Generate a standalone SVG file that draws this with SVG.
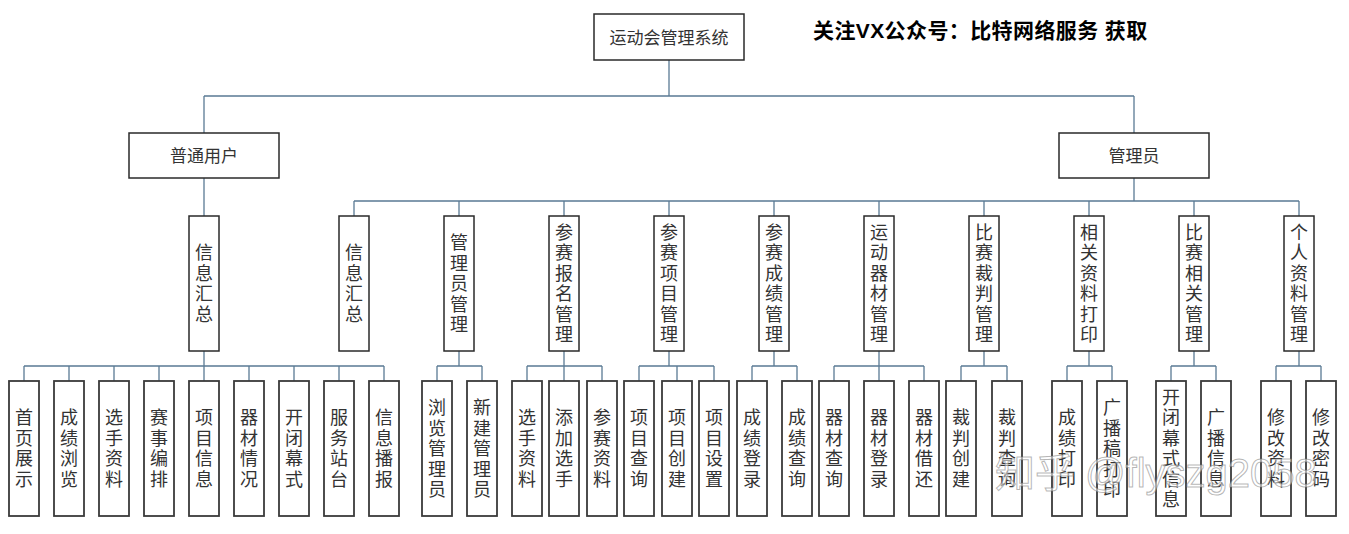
<svg xmlns="http://www.w3.org/2000/svg" width="1349" height="534" viewBox="0 0 1349 534">
<style>
.box{fill:#fff;stroke:#2a2a2a;stroke-width:1.5}
.leaf{fill:#fff;stroke:#3a3a3a;stroke-width:1.8}
.lbl{font-family:"Noto Sans CJK SC","Noto Sans",sans-serif;font-size:17px;fill:#333;text-anchor:middle}
.v{font-family:"Noto Sans CJK SC","Noto Sans",sans-serif;font-size:18px;fill:#333;text-anchor:middle}
.con{fill:none;stroke:#5a7a94;stroke-width:1.3}
.title{font-family:"Liberation Sans","Noto Sans CJK SC",sans-serif;font-size:21px;font-weight:bold;fill:#000;letter-spacing:0.4px}
.wm{font-family:"Noto Sans CJK SC","Liberation Sans",sans-serif;font-size:40px;fill:#fff;fill-opacity:0.55;stroke:#777;stroke-opacity:0.55;stroke-width:1}
</style>
<rect width="1349" height="534" fill="#fff"/>
<g id="connectors" class="con">
<path d="M669 60V96M204 96H1134M204 96V133M1134 96V133M204 178V216M1134 178V201M354 201H1299"/>
<path d="M354 201V216M459 201V216M564 201V216M669 201V216M774 201V216M879 201V216M984 201V216M1089 201V216M1194 201V216M1299 201V216"/>
<path d="M204 351V366M24 366H384M24 366V381M69 366V381M114 366V381M159 366V381M204 366V381M249 366V381M294 366V381M339 366V381M384 366V381"/>
<path d="M459 351V366M437 366H482M437 366V381M482 366V381"/>
<path d="M564 351V366M527 366H602M527 366V381M564 366V381M602 366V381"/>
<path d="M669 351V366M639 366H714M639 366V381M677 366V381M714 366V381"/>
<path d="M774 351V366M752 366H797M752 366V381M797 366V381"/>
<path d="M879 351V366M834 366H924M834 366V381M879 366V381M924 366V381"/>
<path d="M984 351V366M961 366H1007M961 366V381M1007 366V381"/>
<path d="M1089 351V366M1067 366H1112M1067 366V381M1112 366V381"/>
<path d="M1194 351V366M1171 366H1216M1171 366V381M1216 366V381"/>
<path d="M1299 351V366M1276 366H1321M1276 366V381M1321 366V381"/>
</g>
<text id="title" class="title" x="813" y="38">关注VX公众号：比特网络服务 获取</text>
<g id="root"><rect class="box" x="594" y="14" width="150" height="46"/><text class="lbl" x="669" y="43.5">运动会管理系统</text></g>
<g id="user"><rect class="box" x="129" y="133" width="150" height="45"/><text class="lbl" x="204" y="162">普通用户</text></g>
<g id="admin"><rect class="box" x="1059" y="133" width="150" height="45"/><text class="lbl" x="1134" y="162">管理员</text></g>
<g id="u-info"><rect class="box" x="189" y="216" width="30" height="135"/><text class="v" x="204" y="259.25"><tspan x="204">信</tspan><tspan x="204" dy="20.5">息</tspan><tspan x="204" dy="20.5">汇</tspan><tspan x="204" dy="20.5">总</tspan></text></g>
<g id="a-info"><rect class="box" x="339" y="216" width="30" height="135"/><text class="v" x="354" y="259.25"><tspan x="354">信</tspan><tspan x="354" dy="20.5">息</tspan><tspan x="354" dy="20.5">汇</tspan><tspan x="354" dy="20.5">总</tspan></text></g>
<g id="a-admin"><rect class="box" x="444" y="216" width="30" height="135"/><text class="v" x="459" y="249"><tspan x="459">管</tspan><tspan x="459" dy="20.5">理</tspan><tspan x="459" dy="20.5">员</tspan><tspan x="459" dy="20.5">管</tspan><tspan x="459" dy="20.5">理</tspan></text></g>
<g id="a-signup"><rect class="box" x="549" y="216" width="30" height="135"/><text class="v" x="564" y="238.75"><tspan x="564">参</tspan><tspan x="564" dy="20.5">赛</tspan><tspan x="564" dy="20.5">报</tspan><tspan x="564" dy="20.5">名</tspan><tspan x="564" dy="20.5">管</tspan><tspan x="564" dy="20.5">理</tspan></text></g>
<g id="a-event"><rect class="box" x="654" y="216" width="30" height="135"/><text class="v" x="669" y="238.75"><tspan x="669">参</tspan><tspan x="669" dy="20.5">赛</tspan><tspan x="669" dy="20.5">项</tspan><tspan x="669" dy="20.5">目</tspan><tspan x="669" dy="20.5">管</tspan><tspan x="669" dy="20.5">理</tspan></text></g>
<g id="a-score"><rect class="box" x="759" y="216" width="30" height="135"/><text class="v" x="774" y="238.75"><tspan x="774">参</tspan><tspan x="774" dy="20.5">赛</tspan><tspan x="774" dy="20.5">成</tspan><tspan x="774" dy="20.5">绩</tspan><tspan x="774" dy="20.5">管</tspan><tspan x="774" dy="20.5">理</tspan></text></g>
<g id="a-equip"><rect class="box" x="864" y="216" width="30" height="135"/><text class="v" x="879" y="238.75"><tspan x="879">运</tspan><tspan x="879" dy="20.5">动</tspan><tspan x="879" dy="20.5">器</tspan><tspan x="879" dy="20.5">材</tspan><tspan x="879" dy="20.5">管</tspan><tspan x="879" dy="20.5">理</tspan></text></g>
<g id="a-referee"><rect class="box" x="969" y="216" width="30" height="135"/><text class="v" x="984" y="238.75"><tspan x="984">比</tspan><tspan x="984" dy="20.5">赛</tspan><tspan x="984" dy="20.5">裁</tspan><tspan x="984" dy="20.5">判</tspan><tspan x="984" dy="20.5">管</tspan><tspan x="984" dy="20.5">理</tspan></text></g>
<g id="a-print"><rect class="box" x="1074" y="216" width="30" height="135"/><text class="v" x="1089" y="238.75"><tspan x="1089">相</tspan><tspan x="1089" dy="20.5">关</tspan><tspan x="1089" dy="20.5">资</tspan><tspan x="1089" dy="20.5">料</tspan><tspan x="1089" dy="20.5">打</tspan><tspan x="1089" dy="20.5">印</tspan></text></g>
<g id="a-match"><rect class="box" x="1179" y="216" width="30" height="135"/><text class="v" x="1194" y="238.75"><tspan x="1194">比</tspan><tspan x="1194" dy="20.5">赛</tspan><tspan x="1194" dy="20.5">相</tspan><tspan x="1194" dy="20.5">关</tspan><tspan x="1194" dy="20.5">管</tspan><tspan x="1194" dy="20.5">理</tspan></text></g>
<g id="a-profile"><rect class="box" x="1284" y="216" width="30" height="135"/><text class="v" x="1299" y="238.75"><tspan x="1299">个</tspan><tspan x="1299" dy="20.5">人</tspan><tspan x="1299" dy="20.5">资</tspan><tspan x="1299" dy="20.5">料</tspan><tspan x="1299" dy="20.5">管</tspan><tspan x="1299" dy="20.5">理</tspan></text></g>
<g id="l1"><rect class="leaf" x="9" y="381" width="30" height="135"/><text class="v" y="424.25"><tspan x="24">首</tspan><tspan x="24" dy="20.5">页</tspan><tspan x="24" dy="20.5">展</tspan><tspan x="24" dy="20.5">示</tspan></text></g>
<g id="l2"><rect class="leaf" x="54" y="381" width="30" height="135"/><text class="v" y="424.25"><tspan x="69">成</tspan><tspan x="69" dy="20.5">绩</tspan><tspan x="69" dy="20.5">浏</tspan><tspan x="69" dy="20.5">览</tspan></text></g>
<g id="l3"><rect class="leaf" x="99" y="381" width="30" height="135"/><text class="v" y="424.25"><tspan x="114">选</tspan><tspan x="114" dy="20.5">手</tspan><tspan x="114" dy="20.5">资</tspan><tspan x="114" dy="20.5">料</tspan></text></g>
<g id="l4"><rect class="leaf" x="144" y="381" width="30" height="135"/><text class="v" y="424.25"><tspan x="159">赛</tspan><tspan x="159" dy="20.5">事</tspan><tspan x="159" dy="20.5">编</tspan><tspan x="159" dy="20.5">排</tspan></text></g>
<g id="l5"><rect class="leaf" x="189" y="381" width="30" height="135"/><text class="v" y="424.25"><tspan x="204">项</tspan><tspan x="204" dy="20.5">目</tspan><tspan x="204" dy="20.5">信</tspan><tspan x="204" dy="20.5">息</tspan></text></g>
<g id="l6"><rect class="leaf" x="234" y="381" width="30" height="135"/><text class="v" y="424.25"><tspan x="249">器</tspan><tspan x="249" dy="20.5">材</tspan><tspan x="249" dy="20.5">情</tspan><tspan x="249" dy="20.5">况</tspan></text></g>
<g id="l7"><rect class="leaf" x="279" y="381" width="30" height="135"/><text class="v" y="424.25"><tspan x="294">开</tspan><tspan x="294" dy="20.5">闭</tspan><tspan x="294" dy="20.5">幕</tspan><tspan x="294" dy="20.5">式</tspan></text></g>
<g id="l8"><rect class="leaf" x="324" y="381" width="30" height="135"/><text class="v" y="424.25"><tspan x="339">服</tspan><tspan x="339" dy="20.5">务</tspan><tspan x="339" dy="20.5">站</tspan><tspan x="339" dy="20.5">台</tspan></text></g>
<g id="l9"><rect class="leaf" x="369" y="381" width="30" height="135"/><text class="v" y="424.25"><tspan x="384">信</tspan><tspan x="384" dy="20.5">息</tspan><tspan x="384" dy="20.5">播</tspan><tspan x="384" dy="20.5">报</tspan></text></g>
<g id="l10"><rect class="leaf" x="422" y="381" width="30" height="135"/><text class="v" y="414"><tspan x="437">浏</tspan><tspan x="437" dy="20.5">览</tspan><tspan x="437" dy="20.5">管</tspan><tspan x="437" dy="20.5">理</tspan><tspan x="437" dy="20.5">员</tspan></text></g>
<g id="l11"><rect class="leaf" x="467" y="381" width="30" height="135"/><text class="v" y="414"><tspan x="482">新</tspan><tspan x="482" dy="20.5">建</tspan><tspan x="482" dy="20.5">管</tspan><tspan x="482" dy="20.5">理</tspan><tspan x="482" dy="20.5">员</tspan></text></g>
<g id="l12"><rect class="leaf" x="512" y="381" width="30" height="135"/><text class="v" y="424.25"><tspan x="527">选</tspan><tspan x="527" dy="20.5">手</tspan><tspan x="527" dy="20.5">资</tspan><tspan x="527" dy="20.5">料</tspan></text></g>
<g id="l13"><rect class="leaf" x="549" y="381" width="30" height="135"/><text class="v" y="424.25"><tspan x="564">添</tspan><tspan x="564" dy="20.5">加</tspan><tspan x="564" dy="20.5">选</tspan><tspan x="564" dy="20.5">手</tspan></text></g>
<g id="l14"><rect class="leaf" x="587" y="381" width="30" height="135"/><text class="v" y="424.25"><tspan x="602">参</tspan><tspan x="602" dy="20.5">赛</tspan><tspan x="602" dy="20.5">资</tspan><tspan x="602" dy="20.5">料</tspan></text></g>
<g id="l15"><rect class="leaf" x="624" y="381" width="30" height="135"/><text class="v" y="424.25"><tspan x="639">项</tspan><tspan x="639" dy="20.5">目</tspan><tspan x="639" dy="20.5">查</tspan><tspan x="639" dy="20.5">询</tspan></text></g>
<g id="l16"><rect class="leaf" x="662" y="381" width="30" height="135"/><text class="v" y="424.25"><tspan x="677">项</tspan><tspan x="677" dy="20.5">目</tspan><tspan x="677" dy="20.5">创</tspan><tspan x="677" dy="20.5">建</tspan></text></g>
<g id="l17"><rect class="leaf" x="699" y="381" width="30" height="135"/><text class="v" y="424.25"><tspan x="714">项</tspan><tspan x="714" dy="20.5">目</tspan><tspan x="714" dy="20.5">设</tspan><tspan x="714" dy="20.5">置</tspan></text></g>
<g id="l18"><rect class="leaf" x="737" y="381" width="30" height="135"/><text class="v" y="424.25"><tspan x="752">成</tspan><tspan x="752" dy="20.5">绩</tspan><tspan x="752" dy="20.5">登</tspan><tspan x="752" dy="20.5">录</tspan></text></g>
<g id="l19"><rect class="leaf" x="782" y="381" width="30" height="135"/><text class="v" y="424.25"><tspan x="797">成</tspan><tspan x="797" dy="20.5">绩</tspan><tspan x="797" dy="20.5">查</tspan><tspan x="797" dy="20.5">询</tspan></text></g>
<g id="l20"><rect class="leaf" x="819" y="381" width="30" height="135"/><text class="v" y="424.25"><tspan x="834">器</tspan><tspan x="834" dy="20.5">材</tspan><tspan x="834" dy="20.5">查</tspan><tspan x="834" dy="20.5">询</tspan></text></g>
<g id="l21"><rect class="leaf" x="864" y="381" width="30" height="135"/><text class="v" y="424.25"><tspan x="879">器</tspan><tspan x="879" dy="20.5">材</tspan><tspan x="879" dy="20.5">登</tspan><tspan x="879" dy="20.5">录</tspan></text></g>
<g id="l22"><rect class="leaf" x="909" y="381" width="30" height="135"/><text class="v" y="424.25"><tspan x="924">器</tspan><tspan x="924" dy="20.5">材</tspan><tspan x="924" dy="20.5">借</tspan><tspan x="924" dy="20.5">还</tspan></text></g>
<g id="l23"><rect class="leaf" x="946" y="381" width="30" height="135"/><text class="v" y="424.25"><tspan x="961">裁</tspan><tspan x="961" dy="20.5">判</tspan><tspan x="961" dy="20.5">创</tspan><tspan x="961" dy="20.5">建</tspan></text></g>
<g id="l24"><rect class="leaf" x="992" y="381" width="30" height="135"/><text class="v" y="424.25"><tspan x="1007">裁</tspan><tspan x="1007" dy="20.5">判</tspan><tspan x="1007" dy="20.5">查</tspan><tspan x="1007" dy="20.5">询</tspan></text></g>
<g id="l25"><rect class="leaf" x="1052" y="381" width="30" height="135"/><text class="v" y="424.25"><tspan x="1067">成</tspan><tspan x="1067" dy="20.5">绩</tspan><tspan x="1067" dy="20.5">打</tspan><tspan x="1067" dy="20.5">印</tspan></text></g>
<g id="l26"><rect class="leaf" x="1097" y="381" width="30" height="135"/><text class="v" y="414"><tspan x="1112">广</tspan><tspan x="1112" dy="20.5">播</tspan><tspan x="1112" dy="20.5">稿</tspan><tspan x="1112" dy="20.5">打</tspan><tspan x="1112" dy="20.5">印</tspan></text></g>
<g id="l27"><rect class="leaf" x="1156" y="381" width="30" height="135"/><text class="v" y="403.75"><tspan x="1171">开</tspan><tspan x="1171" dy="20.5">闭</tspan><tspan x="1171" dy="20.5">幕</tspan><tspan x="1171" dy="20.5">式</tspan><tspan x="1171" dy="20.5">信</tspan><tspan x="1171" dy="20.5">息</tspan></text></g>
<g id="l28"><rect class="leaf" x="1201" y="381" width="30" height="135"/><text class="v" y="424.25"><tspan x="1216">广</tspan><tspan x="1216" dy="20.5">播</tspan><tspan x="1216" dy="20.5">信</tspan><tspan x="1216" dy="20.5">息</tspan></text></g>
<g id="l29"><rect class="leaf" x="1261" y="381" width="30" height="135"/><text class="v" y="424.25"><tspan x="1276">修</tspan><tspan x="1276" dy="20.5">改</tspan><tspan x="1276" dy="20.5">资</tspan><tspan x="1276" dy="20.5">料</tspan></text></g>
<g id="l30"><rect class="leaf" x="1306" y="381" width="30" height="135"/><text class="v" y="424.25"><tspan x="1321">修</tspan><tspan x="1321" dy="20.5">改</tspan><tspan x="1321" dy="20.5">密</tspan><tspan x="1321" dy="20.5">码</tspan></text></g>
<text id="watermark" class="wm" y="487"><tspan x="995">知乎</tspan><tspan x="1085" font-family="Liberation Sans, sans-serif">@flyszg2058</tspan></text>
</svg>
